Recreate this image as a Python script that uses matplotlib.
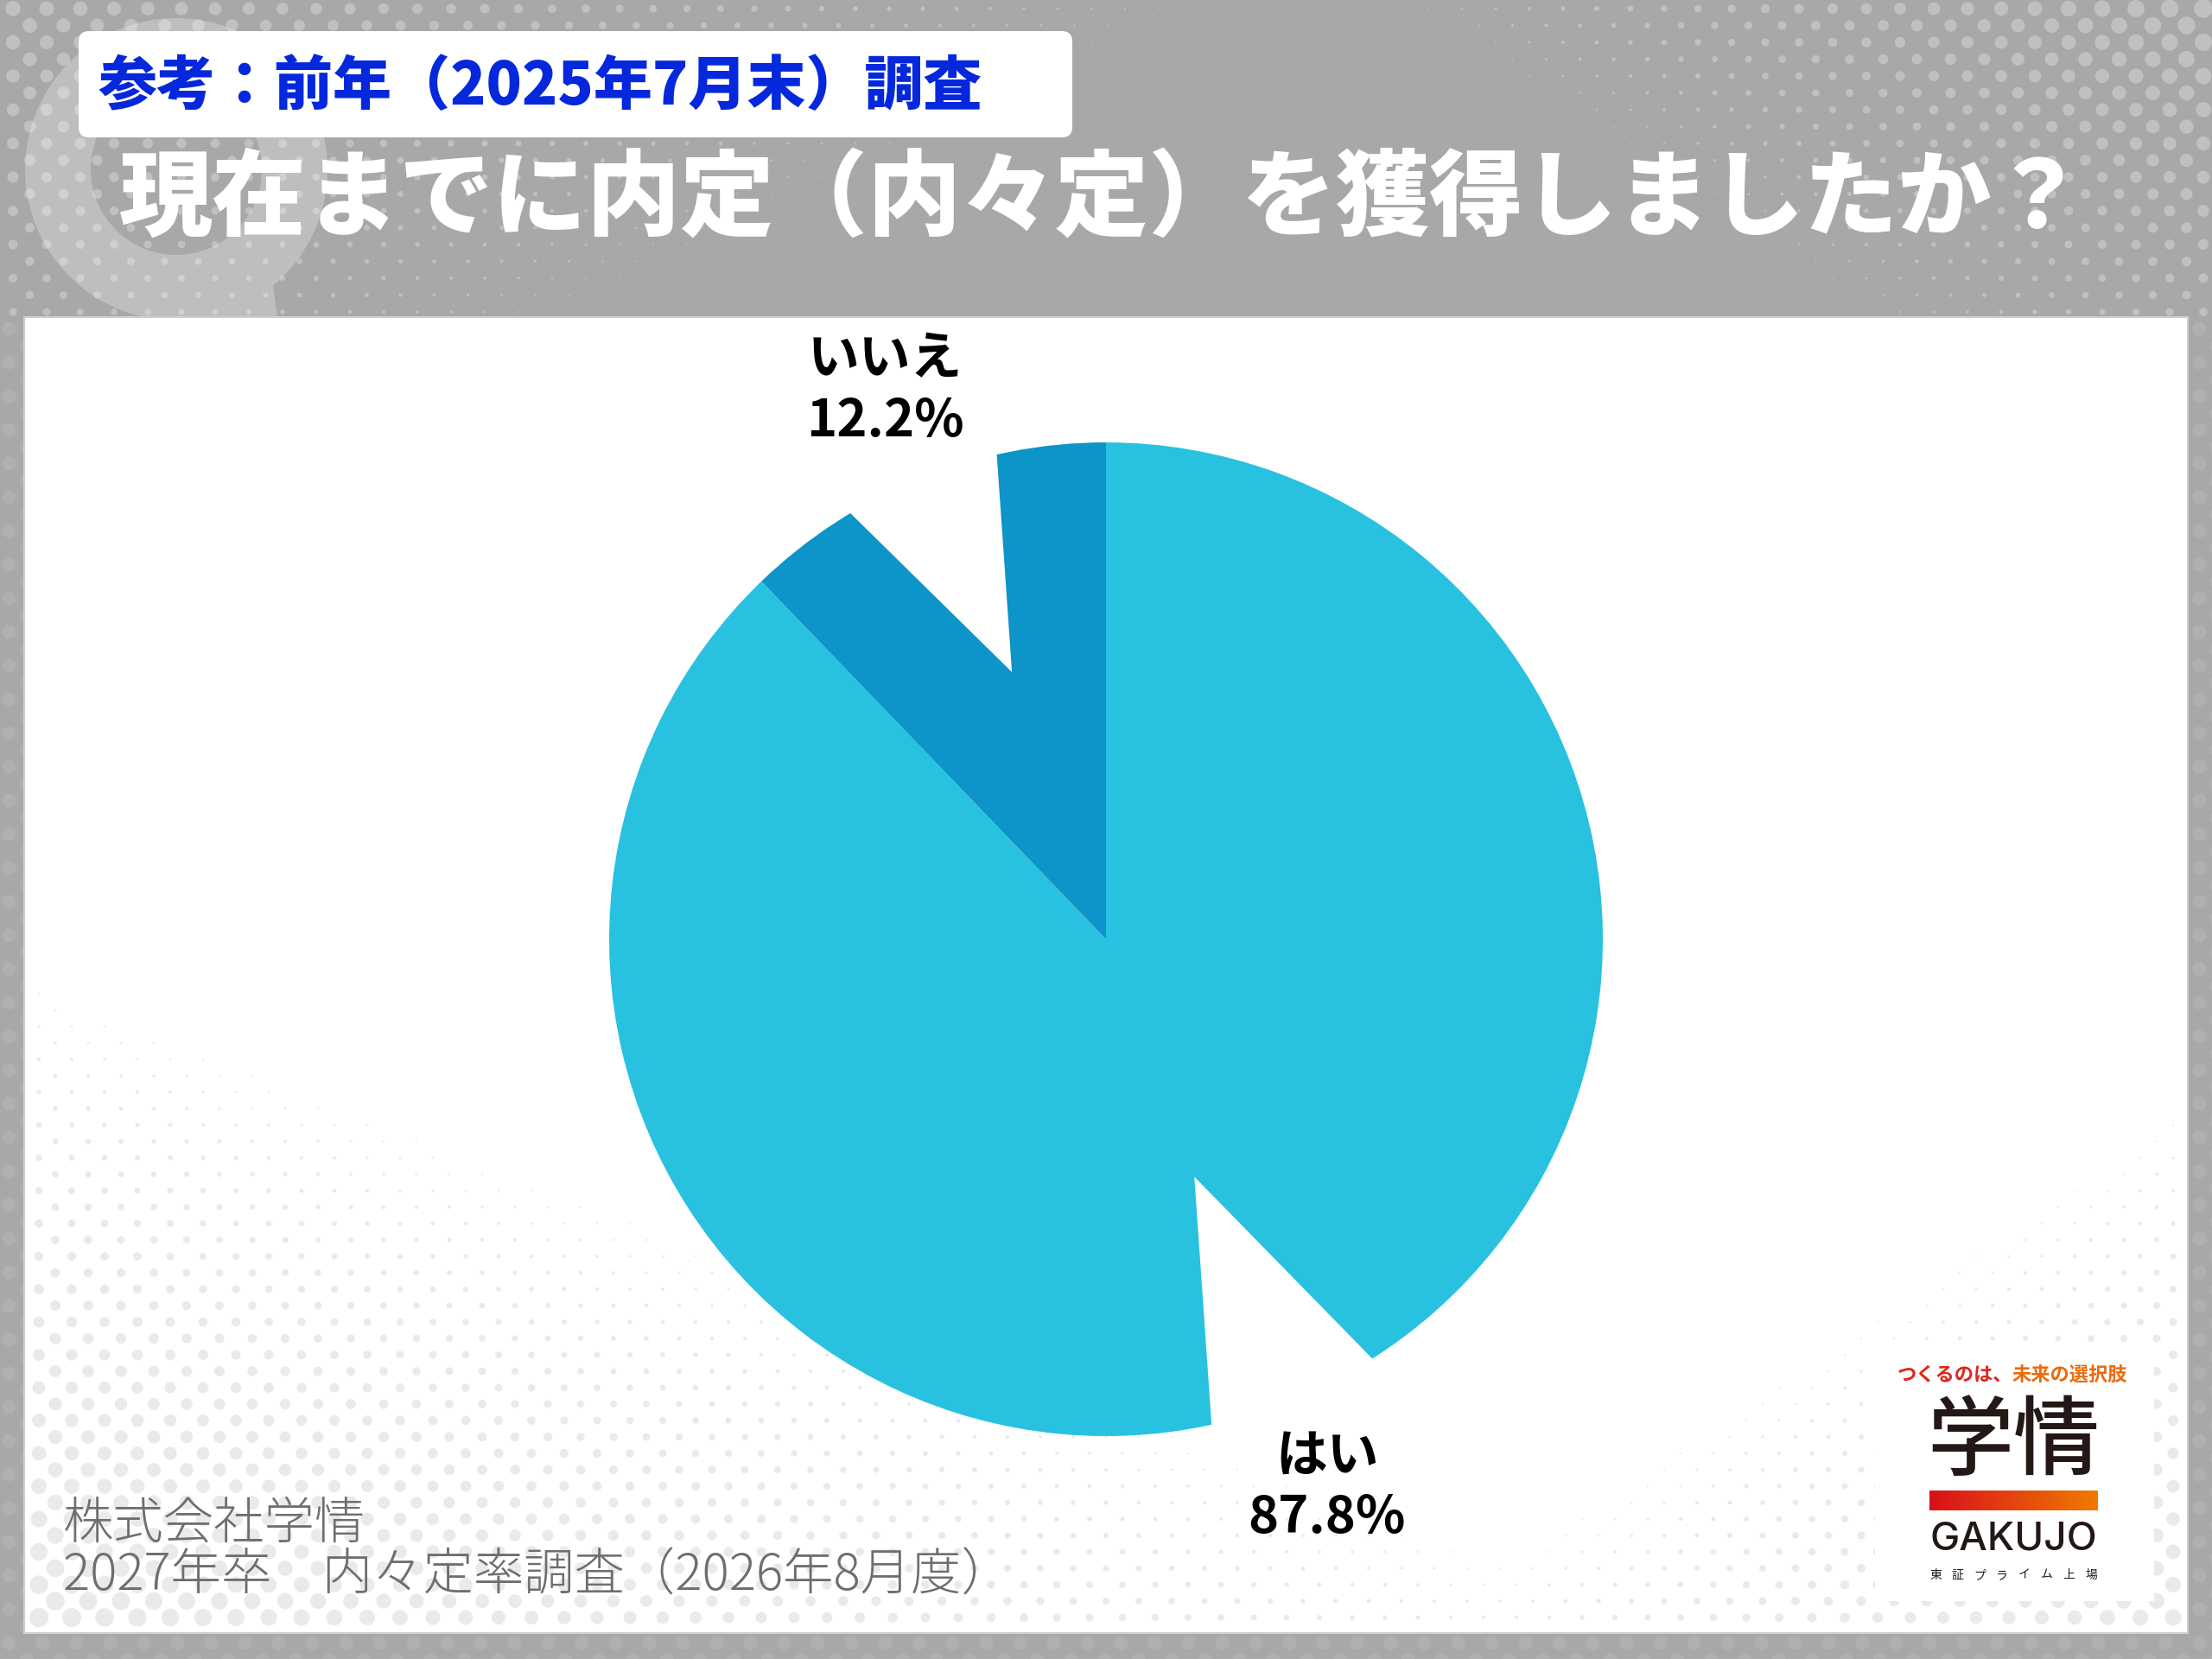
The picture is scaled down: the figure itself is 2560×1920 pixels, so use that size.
import numpy as np
import matplotlib
matplotlib.use("Agg")
import matplotlib.pyplot as plt
from matplotlib.patches import Rectangle, FancyBboxPatch, Wedge, Polygon

plt.rcParams['font.family'] = ['Noto Sans CJK JP', 'DejaVu Sans']

# data
answers = ["はい", "いいえ"]
shares = [87.8, 12.2]
colors = ["#29C1E0", "#0D94C8"]

badge = "参考：前年（2025年7月末）調査"
question = "現在までに内定（内々定）を獲得しましたか？"
source_lines = ["株式会社学情", "2027年卒　内々定率調査（2026年8月度）"]

W, H = 2560, 1920
BG = "#A8A8A8"

fig = plt.figure(figsize=(25.6, 19.2), dpi=100)
fig.patch.set_facecolor(BG)
ax = fig.add_axes([0, 0, 1, 1])
ax.set_xlim(0, W)
ax.set_ylim(H, 0)
ax.axis("off")


def px2pt(d):
    return (d * 72 / 100) ** 2


def dot_grid(y0, y1, x0, x1, step_x, step_y):
    pts = []
    for j, y in enumerate(np.arange(y0, y1, step_y)):
        off = step_x / 2 if j % 2 else 0
        for x in np.arange(x0 + off, x1, step_x):
            pts.append((x, y))
    return np.array(pts)


# "Q" decoration top left
ax.add_patch(Wedge((204, 196), 175, 0, 360, width=76, color="#BEBEBE", lw=0, zorder=1))
ax.add_patch(Polygon([(140, 300), (312, 300), (321, 367), (205, 367)],
                     closed=True, color="#BEBEBE", lw=0, zorder=1))

# halftone dots in the header (two corners)
pts = dot_grid(10, 367, 15, W, 39, 19.5)
x, y = pts[:, 0], pts[:, 1]
d = np.maximum(18 - 0.012 * x - 0.024 * y, 22 - 0.022 * (W - x) - 0.033 * y)
keep = d > 1.5
ax.scatter(x[keep], y[keep], s=px2pt(d[keep]), color="white", alpha=0.28, lw=0, zorder=2)

# faint dots in the grey margins
pts = dot_grid(380, H + 20, 10, W + 20, 39, 19.5)
x, y = pts[:, 0], pts[:, 1]
keep = (y > 1885) | (x < 30) | (x > 2530)
ax.scatter(x[keep], y[keep], s=px2pt(16), color="white", alpha=0.1, lw=0, zorder=2)

# white panel
ax.add_patch(Rectangle((28, 367), 2504, 1523, facecolor="white",
                       edgecolor="#CFCFCF", lw=1.5, zorder=3))

# light dots inside the panel (bottom left / bottom right)
pts = dot_grid(1150, 1886, 45, 2525, 38, 19)
x, y = pts[:, 0], pts[:, 1]
d = np.maximum(23 - 0.011 * (x - 28) - 0.028 * (1890 - y),
               20 - 0.02 * (2532 - x) - 0.03 * (1890 - y))
keep = d > 2
ax.scatter(x[keep], y[keep], s=px2pt(d[keep]), color="#EAEAEA", lw=0, zorder=4)

# badge box and titles
ax.add_patch(FancyBboxPatch((91, 36), 1150, 123, boxstyle="round,pad=0,rounding_size=12",
                            facecolor="white", edgecolor="none", zorder=5))
ax.text(113, 100, badge, color="#0528DC", fontsize=49, fontweight="black",
        ha="left", va="center", zorder=6)
ax.text(138, 232, question, color="white", fontsize=78, fontweight="black",
        ha="left", va="center", zorder=6)

# source
ax.text(73, 1765, source_lines[0], color="#6E6E6E", fontsize=42, fontweight="light",
        ha="left", va="center", zorder=6)
ax.text(73, 1824, source_lines[1], color="#6E6E6E", fontsize=42, fontweight="light",
        ha="left", va="center", zorder=6)

# logo
ax.add_patch(Rectangle((2170, 1560), 323, 293, facecolor="white", edgecolor="none", zorder=5))
ax.text(2329, 1592, "つくるのは、", color="#E0261C", fontsize=16, fontweight="bold",
        ha="right", va="center", zorder=6)
ax.text(2329, 1592, "未来の選択肢", color="#EC6A0A", fontsize=16, fontweight="bold",
        ha="left", va="center", zorder=6)
ax.text(2330, 1670, "学情", color="#231815", fontsize=72, fontweight="medium",
        ha="center", va="center", zorder=6)
grad = np.linspace(0, 1, 256)[None, :, None]
c0 = np.array([216, 16, 26]) / 255
c1 = np.array([240, 122, 0]) / 255
ax.imshow(c0 + (c1 - c0) * grad, extent=(2233, 2428, 1748, 1725), aspect="auto", zorder=6)
ax.text(2330, 1782, "GAKUJO", color="#231815", fontsize=33, family="Inter",
        fontweight="medium", ha="center", va="center", zorder=6)
for ch, xc in zip("東証プライム上場", np.linspace(2240, 2420, 8)):
    ax.text(xc, 1823, ch, color="#231815", fontsize=10, ha="center", va="center", zorder=6)
ax.set_xlim(0, W)
ax.set_ylim(H, 0)

# pie
cx, cy, R = 1280, 1087, 575
pax = fig.add_axes([(cx - R) / W, (H - cy - R) / H, 2 * R / W, 2 * R / H])
pax.set_zorder(7)
pax.patch.set_alpha(0)
labels = [f"{a}\n{v}%" for a, v in zip(answers, shares)]
wedges, texts = pax.pie(shares, labels=labels, colors=colors, startangle=90,
                        counterclock=False, labeldistance=1.19,
                        wedgeprops=dict(linewidth=0),
                        textprops=dict(fontsize=43, fontweight="bold", color="black"))
for t in texts:
    t.set_ha("center")
    t.set_va("center")
    t.set_linespacing(1.25)

# white notches cut into the disc (as in the source image)
for a1, a_tip, r_tip, a2 in [(102.2, 109.4, 0.57, 121.8), (-78.2, -69.6, 0.51, -56.9)]:
    pts = [(1.06 * np.cos(np.radians(a1)), 1.06 * np.sin(np.radians(a1))),
           (r_tip * np.cos(np.radians(a_tip)), r_tip * np.sin(np.radians(a_tip))),
           (1.06 * np.cos(np.radians(a2)), 1.06 * np.sin(np.radians(a2)))]
    pax.add_patch(Polygon(pts, closed=True, color="white", lw=0, zorder=3))
pax.set_xlim(-1, 1)
pax.set_ylim(-1, 1)
pax.set_aspect("equal")
pax.axis("off")

fig.savefig("out.png", dpi=100, facecolor=BG)
